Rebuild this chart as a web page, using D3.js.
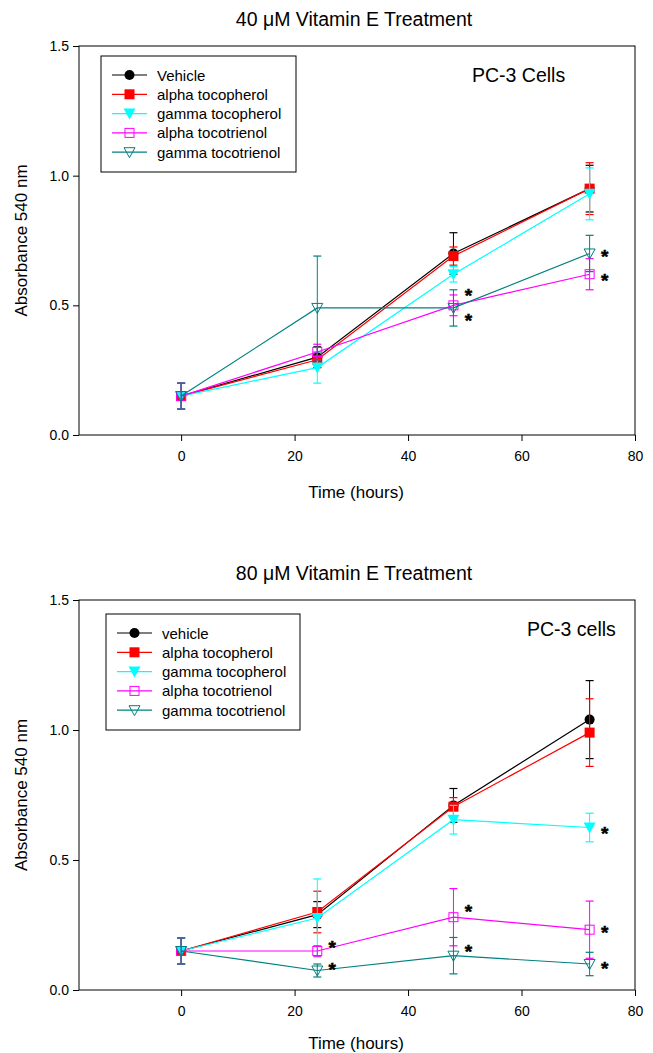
<!DOCTYPE html>
<html>
<head>
<meta charset="utf-8">
<script src="https://cdn.jsdelivr.net/npm/d3@7"></script>
<style>
  body { margin: 0; background: #fff; }
  text { font-family: "Liberation Sans", Arial, sans-serif; }
</style>
</head>
<body>
<div id="chart"></div>
<script>
// time points (hours)
const times = [0, 24, 48, 72];
const xTicks = [0, 20, 40, 60, 80];
const yTicks = [0, 0.5, 1.0, 1.5];

// 40 uM panel
const names40 = ["Vehicle", "alpha tocopherol", "gamma tocopherol", "alpha tocotrienol", "gamma tocotrienol"];
const vehicle40 = [0.15, 0.30, 0.70, 0.95];
const vehicle40Err = [0.05, 0.04, 0.08, 0.09];
const aToco40 = [0.15, 0.29, 0.69, 0.95];
const aToco40Err = [0.05, 0.03, 0.035, 0.10];
const gToco40 = [0.15, 0.26, 0.62, 0.93];
const gToco40Err = [0.05, 0.06, 0.03, 0.10];
const aTri40 = [0.15, 0.32, 0.50, 0.62];
const aTri40Err = [0.05, 0.03, 0.04, 0.06];
const gTri40 = [0.15, 0.49, 0.49, 0.70];
const gTri40Err = [0.05, 0.20, 0.07, 0.07];
const stars40 = [[48, 0.55], [48, 0.455], [72, 0.70], [72, 0.61]];

// 80 uM panel
const names80 = ["vehicle", "alpha tocopherol", "gamma tocopherol", "alpha tocotrienol", "gamma tocotrienol"];
const vehicle80 = [0.15, 0.29, 0.71, 1.04];
const vehicle80Err = [0.05, 0.05, 0.065, 0.15];
const aToco80 = [0.15, 0.30, 0.705, 0.99];
const aToco80Err = [0.05, 0.08, 0.035, 0.13];
const gToco80 = [0.15, 0.277, 0.655, 0.625];
const gToco80Err = [0.05, 0.15, 0.055, 0.055];
const aTri80 = [0.15, 0.15, 0.28, 0.232];
const aTri80Err = [0.05, 0.02, 0.11, 0.11];
const gTri80 = [0.15, 0.075, 0.132, 0.10];
const gTri80Err = [0.05, 0.025, 0.07, 0.045];
const stars80 = [[24, 0.178], [24, 0.093], [48, 0.315], [48, 0.16], [72, 0.615], [72, 0.235], [72, 0.096]];

const colors = ["#000000", "#ff0000", "#00ffff", "#ff00ff", "#008080"];
const symbols = ["circle", "square", "tri", "opensquare", "opentri"];

const svg = d3.select("#chart").append("svg")
  .attr("width", 653).attr("height", 1053);

function drawSymbol(g, type, color, x, y) {
  if (type === "circle") {
    g.append("circle").attr("cx", x).attr("cy", y).attr("r", 5).attr("fill", color);
  } else if (type === "square") {
    g.append("rect").attr("x", x - 5).attr("y", y - 5).attr("width", 10).attr("height", 10).attr("fill", color);
  } else if (type === "opensquare") {
    g.append("rect").attr("x", x - 4.5).attr("y", y - 4.5).attr("width", 9).attr("height", 9)
      .attr("fill", "none").attr("stroke", color).attr("stroke-width", 1);
  } else if (type === "tri") {
    g.append("path").attr("d", `M${x-6},${y-5}L${x+6},${y-5}L${x},${y+6}Z`).attr("fill", color);
  } else {
    g.append("path").attr("d", `M${x-5.5},${y-4.5}L${x+5.5},${y-4.5}L${x},${y+5.5}Z`)
      .attr("fill", "none").attr("stroke", color).attr("stroke-width", 1);
  }
}

function drawPanel(opt) {
  const x = d3.scaleLinear().domain([-18, 80]).range([79, 635]);
  const y = d3.scaleLinear().domain([0, 1.5]).range([opt.bottom, opt.top]);
  const g = svg.append("g");

  // frame
  g.append("rect").attr("x", 79).attr("y", opt.top).attr("width", 635 - 79).attr("height", opt.bottom - opt.top)
    .attr("fill", "none").attr("stroke", "#000").attr("stroke-width", 1);

  const yAxis = g.append("g").attr("transform", "translate(79,0)")
    .call(d3.axisLeft(y).tickValues(yTicks).tickFormat(d3.format(".1f")).tickSize(6).tickPadding(4));
  const xAxis = g.append("g").attr("transform", `translate(0,${opt.bottom})`)
    .call(d3.axisBottom(x).tickValues(xTicks).tickSize(6).tickPadding(10));
  [xAxis, yAxis].forEach(a => {
    a.select(".domain").remove();
    a.selectAll("text").style("font-size", "14px").attr("fill", "#000")
      .style("font-family", "'Liberation Sans', Arial, sans-serif");
  });

  // titles
  g.append("text").attr("x", 354).attr("y", opt.top - 20).attr("text-anchor", "middle")
    .style("font-size", "19.5px").text(opt.title);
  g.append("text").attr("x", 356).attr("y", opt.bottom + opt.xlabDy).attr("text-anchor", "middle")
    .style("font-size", "17px").text("Time (hours)");
  const ymid = (opt.top + opt.bottom) / 2;
  g.append("text").attr("transform", `translate(27,${ymid}) rotate(-90)`).attr("text-anchor", "middle")
    .style("font-size", "17px").text("Absorbance 540 nm");
  g.append("text").attr("x", opt.cellX).attr("y", opt.top + 36).style("font-size", "19.5px").text(opt.cells);

  // series
  opt.series.forEach((vals, i) => {
    const errs = opt.errors[i];
    const s = g.append("g");
    const line = d3.line().x((d, j) => x(times[j])).y(d => y(d));
    s.append("path").datum(vals).attr("d", line).attr("fill", "none")
      .attr("stroke", colors[i]).attr("stroke-width", 1.2);
    vals.forEach((v, j) => {
      const cx = x(times[j]);
      const y1 = y(v + errs[j]), y2 = y(v - errs[j]);
      s.append("line").attr("x1", cx).attr("x2", cx).attr("y1", y1).attr("y2", y2)
        .attr("stroke", colors[i]).attr("stroke-width", 1);
      [y1, y2].forEach(yy => s.append("line").attr("x1", cx - 4).attr("x2", cx + 4).attr("y1", yy).attr("y2", yy)
        .attr("stroke", colors[i]).attr("stroke-width", 1.2));
      drawSymbol(s, symbols[i], colors[i], cx, y(v));
    });
  });

  // significance stars
  opt.stars.forEach(st => {
    g.append("text").attr("x", x(st[0]) + 15).attr("y", y(st[1]) + 10)
      .attr("text-anchor", "middle").style("font-size", "19px").style("font-weight", "bold")
      .attr("stroke", "#000").attr("stroke-width", 0.5).text("*");
  });

  // legend
  const L = opt.legend;
  g.append("rect").attr("x", L.x).attr("y", L.y).attr("width", L.w).attr("height", L.h)
    .attr("fill", "#fff").attr("stroke", "#000").attr("stroke-width", 1);
  opt.names.forEach((n, i) => {
    const ly = L.y + 19 + i * 19.3;
    g.append("line").attr("x1", L.x + 11).attr("x2", L.x + 46).attr("y1", ly).attr("y2", ly)
      .attr("stroke", colors[i]).attr("stroke-width", 1.2);
    drawSymbol(g, symbols[i], colors[i], L.x + 28.5, ly);
    g.append("text").attr("x", L.x + 56).attr("y", ly + 5.5).style("font-size", "15px").text(n);
  });
}

drawPanel({
  top: 46, bottom: 435, xlabDy: 63, title: "40 \u03bcM Vitamin E Treatment", cells: "PC-3 Cells", cellX: 472,
  names: names40,
  series: [vehicle40, aToco40, gToco40, aTri40, gTri40],
  errors: [vehicle40Err, aToco40Err, gToco40Err, aTri40Err, gTri40Err],
  stars: stars40,
  legend: { x: 101, y: 56, w: 195, h: 116 }
});

drawPanel({
  top: 600, bottom: 990, xlabDy: 59, title: "80 \u03bcM  Vitamin E Treatment", cells: "PC-3 cells", cellX: 527,
  names: names80,
  series: [vehicle80, aToco80, gToco80, aTri80, gTri80],
  errors: [vehicle80Err, aToco80Err, gToco80Err, aTri80Err, gTri80Err],
  stars: stars80,
  legend: { x: 106, y: 614, w: 194, h: 116 }
});
</script>
</body>
</html>
